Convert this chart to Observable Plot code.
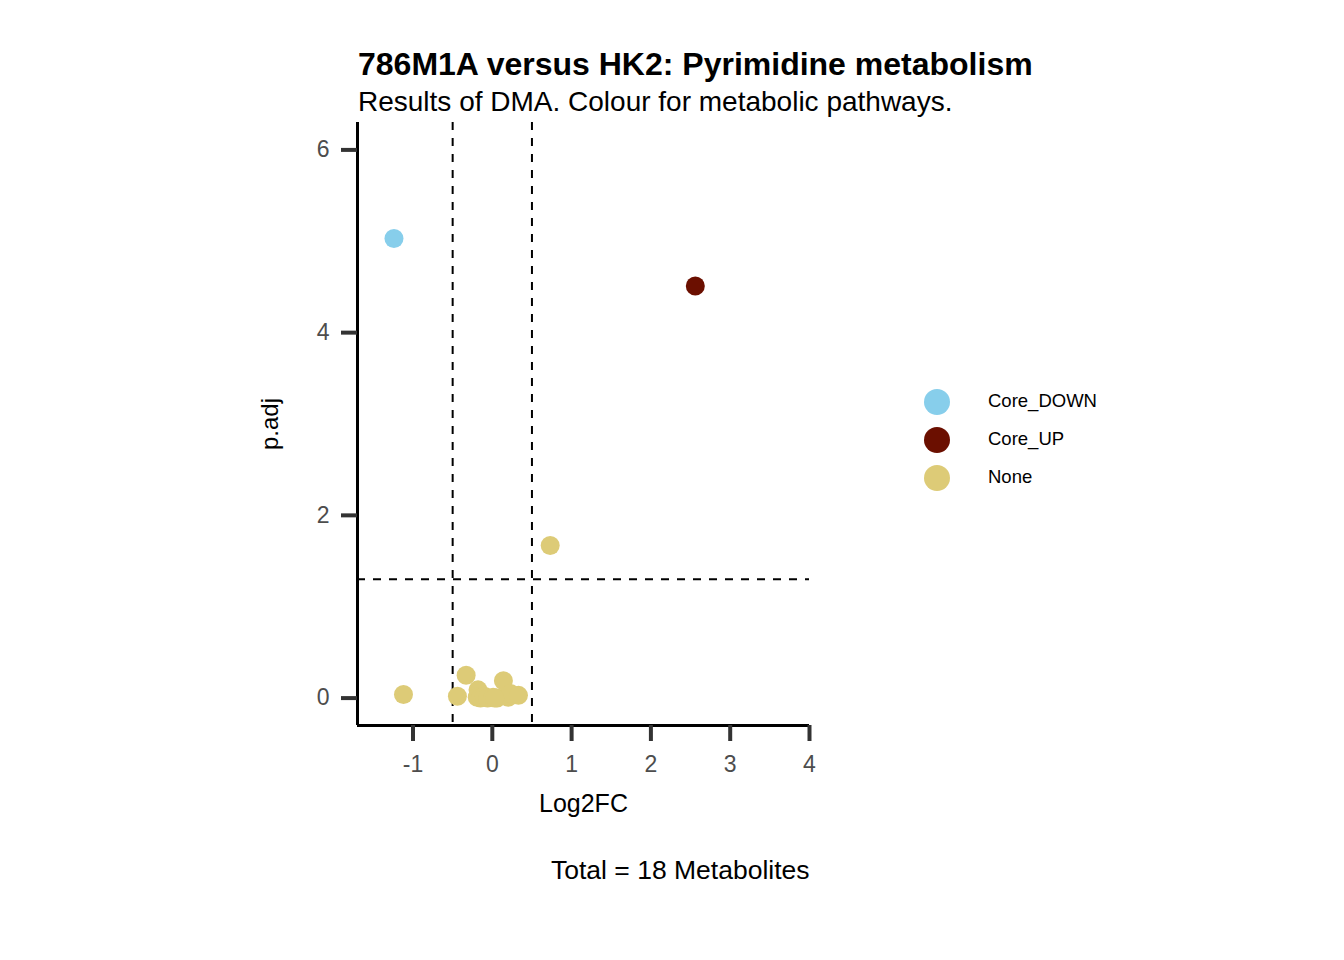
<!DOCTYPE html>
<html><head><meta charset="utf-8">
<script src="https://cdn.jsdelivr.net/npm/d3@7"></script>
<script src="https://cdn.jsdelivr.net/npm/@observablehq/plot@0.6"></script>
<style>
body{margin:0;background:#fff;font-family:Arial,"Liberation Sans",sans-serif}
#wrap{position:relative;width:1344px;height:960px}
.t{position:absolute;white-space:nowrap;color:#000}
.lg{position:absolute;width:26px;height:26px;border-radius:50%}
</style></head><body>
<div id="wrap"></div>
<script>
// metabolite values
const log2fc = [-1.24, 2.56, 0.73, -1.12, -0.44, -0.33, -0.18, -0.19, -0.15, -0.10, -0.06, 0.01, 0.06, 0.14, 0.20, 0.23, 0.33, 0.03]
const padj   = [5.03, 4.51, 1.67, 0.04, 0.02, 0.25, 0.09, 0.01, 0.00, 0.02, 0.00, 0.01, 0.00, 0.19, 0.01, 0.05, 0.03, 0.00]
const group  = ["Core_DOWN", "Core_UP", "None", "None", "None", "None", "None", "None", "None", "None", "None", "None", "None", "None", "None", "None", "None", "None"]
const groups = ["Core_DOWN", "Core_UP", "None"]
const colours = ["#87CEEB", "#6B0F00", "#DDCB77"]
const xTicks = [-1, 0, 1, 2, 3, 4]
const yTicks = [0, 2, 4, 6]
const fcCut = [-0.5, 0.5]
const pCut = 1.3

const data = log2fc.map((x, i) => ({x, y: padj[i], g: group[i]}))

const plot = Plot.plot({
  width: 1344, height: 960,
  marginLeft: 357, marginRight: 535, marginTop: 122, marginBottom: 235,
  style: {fontFamily: "Arial, 'Liberation Sans', sans-serif", fontSize: "23px"},
  x: {domain: [-1.7, 4], label: null},
  y: {domain: [-0.3, 6.3], label: null},
  color: {domain: groups, range: colours},
  marks: [
    Plot.ruleX(fcCut, {stroke: "#000", strokeWidth: 2, strokeDasharray: "8,8"}),
    Plot.ruleY([pCut], {stroke: "#000", strokeWidth: 2, strokeDasharray: "8,8"}),
    Plot.dot(data, {x: "x", y: "y", fill: "g", r: 9.5}),
    Plot.ruleX([-1.7], {stroke: "#000", strokeWidth: 3}),
    Plot.ruleY([-0.3], {stroke: "#000", strokeWidth: 3}),
    Plot.axisX({ticks: xTicks, tickFormat: d => d < 0 ? "-" + Math.abs(d) : String(d), tickSize: 16, tickPadding: 14, strokeWidth: 4, stroke: "#333", color: "#4d4d4d", label: null}),
    Plot.axisY({ticks: yTicks, tickFormat: d => String(d), tickSize: 16, tickPadding: 12, strokeWidth: 4, stroke: "#333", color: "#4d4d4d", label: null})
  ]
})
const wrap = document.querySelector("#wrap")
wrap.append(plot)

function label(txt, left, top, css) {
  const d = document.createElement("div")
  d.className = "t"
  d.textContent = txt
  d.style.left = left + "px"; d.style.top = top + "px"
  Object.assign(d.style, css || {})
  wrap.append(d)
  return d
}
label("786M1A versus HK2: Pyrimidine metabolism", 358, 46, {fontSize: "32px", fontWeight: "bold"})
label("Results of DMA. Colour for metabolic pathways.", 358, 86, {fontSize: "28px"})
label("Log2FC", 539, 789, {fontSize: "25px"})
label("p.adj", 256, 450, {fontSize: "24px", transform: "rotate(-90deg)", transformOrigin: "0 0"})
label("Total = 18 Metabolites", 551, 855, {fontSize: "26.5px"})
groups.forEach((g, i) => {
  const c = document.createElement("div")
  c.className = "lg"
  c.style.left = "924px"; c.style.top = (389 + i * 38) + "px"
  c.style.background = colours[i]
  wrap.append(c)
  label(g, 988, 390 + i * 38, {fontSize: "18.5px"})
})
</script>
</body></html>
